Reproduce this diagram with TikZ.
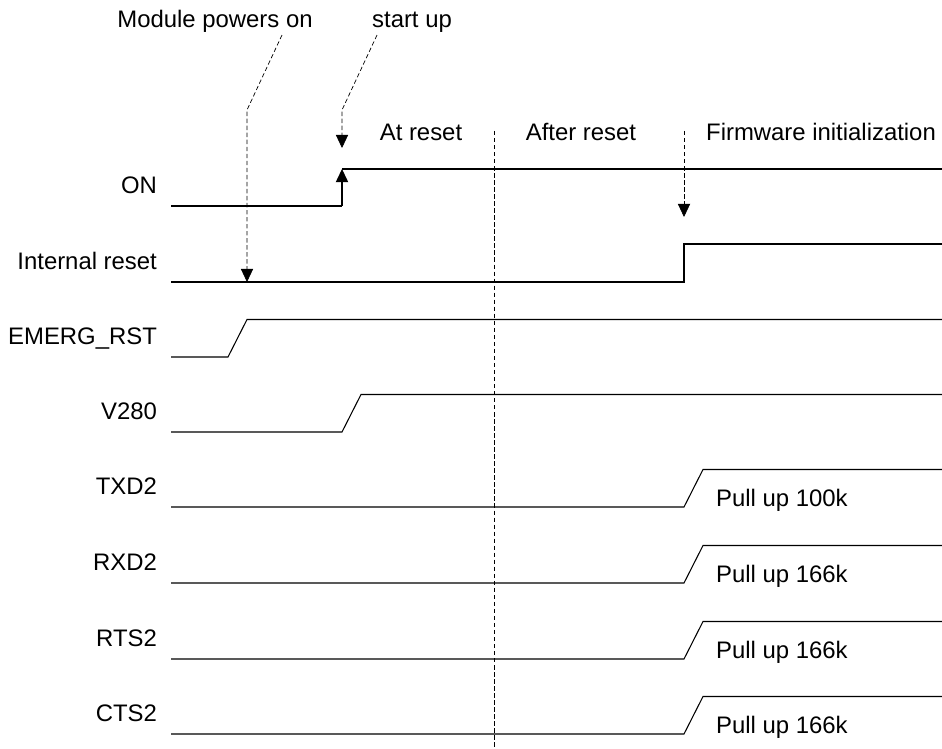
\documentclass[tikz,border=0pt]{standalone}
\usepackage{fontspec}
\setmainfont{Liberation Sans}
\usetikzlibrary{arrows.meta}

\begin{document}
\begin{tikzpicture}[
    x=0.02cm, y=-0.02cm,
    every node/.style={
      font=\fontsize{13.6}{16}\selectfont,
      inner sep=1pt
    },
    wave/.style={line width=0.6pt},
    tip/.style={-{Triangle[width=7pt,length=7.5pt]}},
    callout/.style={line width=0.4pt, dash pattern=on 2.5pt off 1.5pt, tip},
    phase/.style={line width=0.4pt, dash pattern=on 2.5pt off 1.5pt}
]
\useasboundingbox (0,0) rectangle (942,749);

% signal names
\foreach \id/\txt/\y in {on/ON/206, irst/Internal reset/282, emerg/EMERG\_RST/357,
    vref/V280/432, txd/TXD2/507, rxd/RXD2/583, rts/RTS2/659, cts/CTS2/734} {
  \node[anchor=base east] (\id) at (159,\y-12.5) {\txt};
}

% ON and internal reset
\draw[wave] (171,206) -- (342,206);
\draw[wave,tip] (342,206) -- (342,169);
\draw[wave] (342,169) -- (942,169);
\draw[wave] (171,282) -- (684,282) -- (684,244) -- (942,244);

% ramps
\foreach \y/\a/\b in {357/228/247, 432/342/361, 507/684/703,
    583/684/703, 659/684/703, 734/684/703} {
  \draw[wave] (171,\y) -- (\a,\y) -- (\b,\y-37.5) -- (942,\y-37.5);
}

\foreach \id/\txt/\y in {pua/100k/507, pub/166k/583, puc/166k/659, pud/166k/734} {
  \node[anchor=base west] (\id) at (714,\y-1) {Pull up \txt};
}

% phases
\node[anchor=base] (atrst) at (421,141) {At reset};
\node[anchor=base] (aftrst) at (581,141) {After reset};
\node[anchor=base] (fwinit) at (821,141) {Firmware initialization};
\draw[phase] (494,131) -- (494,747);

% events
\node[anchor=base] (pwr) at (215,28) {Module powers on};
\node[anchor=base] (start) at (412,28) {start up};
\coordinate (pwrbend) at (247,110);
\coordinate (pwrtip) at (247,282);
\coordinate (startbend) at (342,110);
\coordinate (starttip) at (342,148);
\coordinate (fwtop) at (684,131);
\coordinate (fwtip) at (684,217);
\draw[callout] ([xshift=1.34cm]pwr.south) -- (pwrbend) -- (pwrtip);
\draw[callout] ([xshift=-0.7cm]start.south) -- (startbend) -- (starttip);
\draw[callout] (fwtop) -- (fwtip);
\end{tikzpicture}
\end{document}
